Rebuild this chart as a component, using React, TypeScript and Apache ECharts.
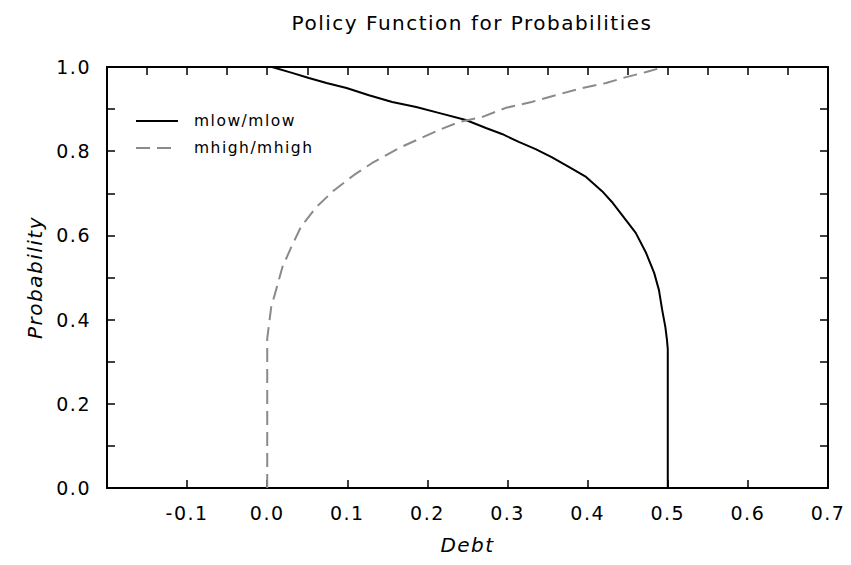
import React, { useEffect, useRef } from "react";
import * as echarts from "echarts";

const TITLE = "Policy Function for Probabilities";
const X_NAME = "Debt";
const Y_NAME = "Probability";
const SERIES_NAMES = ["mlow/mlow", "mhigh/mhigh"];

// mlow/mlow (solid black)
const mlowX = [0.006, 0.031, 0.052, 0.074, 0.099, 0.127, 0.156, 0.186, 0.214, 0.248, 0.273, 0.293, 0.314, 0.335, 0.355, 0.377, 0.398, 0.418, 0.43, 0.443, 0.46, 0.473, 0.483, 0.489, 0.493, 0.497, 0.499, 0.5, 0.5];
const mlowY = [1.0, 0.986, 0.974, 0.962, 0.95, 0.933, 0.917, 0.905, 0.891, 0.874, 0.855, 0.841, 0.822, 0.805, 0.786, 0.762, 0.739, 0.705, 0.68, 0.648, 0.606, 0.558, 0.511, 0.47, 0.423, 0.382, 0.352, 0.33, 0.0];

// mhigh/mhigh (dashed grey)
const mhighX = [0.0, 0.0, 0.005, 0.011, 0.019, 0.03, 0.042, 0.061, 0.084, 0.108, 0.131, 0.165, 0.214, 0.239, 0.268, 0.298, 0.33, 0.36, 0.389, 0.423, 0.448, 0.473, 0.495];
const mhighY = [0.0, 0.355, 0.43, 0.47, 0.525, 0.572, 0.62, 0.667, 0.708, 0.743, 0.772, 0.808, 0.85, 0.869, 0.881, 0.903, 0.917, 0.933, 0.948, 0.962, 0.976, 0.988, 1.0];

const X_MIN = -0.2;
const X_MAX = 0.7;
const X_STEP = 0.1;
const X_TOP_STEP = 0.05;
const Y_MIN = 0;
const Y_MAX = 1;
const Y_STEP = 0.2;
const Y_RIGHT_STEP = 0.1;

const FONT = "DejaVu Sans";

const fmt = (v: number) => {
  if (Math.abs(v) < 1e-9) return "0.0";
  return v.toFixed(1);
};

export default function App() {
  const ref = useRef<HTMLDivElement>(null);
  useEffect(() => {
    if (!ref.current) return;
    const chart = echarts.init(ref.current, undefined, { renderer: "svg" });
    const pairs = (xs: number[], ys: number[]) => xs.map((x, i) => [x, ys[i]]);
    const tickCommon = { show: true, inside: true, length: 8, lineStyle: { color: "#000", width: 1.5 } };
    const lineCommon = { show: true, onZero: false, lineStyle: { color: "#000", width: 2 } };
    chart.setOption({
      animation: false,
      backgroundColor: "#fff",
      title: {
        text: TITLE,
        left: 467,
        top: 8,
        textAlign: "center",
        textStyle: { fontFamily: FONT, fontSize: 20, fontWeight: "normal", color: "#000" },
      },
      legend: {
        orient: "vertical",
        left: 135,
        top: 113,
        padding: 0,
        itemWidth: 42,
        itemHeight: 14,
        itemGap: 11,
        data: SERIES_NAMES,
        itemStyle: { opacity: 0 },
        textStyle: { fontFamily: FONT, fontSize: 15.5, color: "#000", padding: [0, 0, 0, 11] },
      },
      grid: { left: 107, right: 23, top: 67, bottom: 77, containLabel: false },
      xAxis: [
        {
          type: "value",
          position: "bottom",
          min: X_MIN,
          max: X_MAX,
          interval: X_STEP,
          name: X_NAME,
          nameLocation: "middle",
          nameGap: 47,
          nameTextStyle: { fontFamily: FONT, fontSize: 20, fontStyle: "italic", color: "#000" },
          axisLine: lineCommon,
          axisTick: tickCommon,
          splitLine: { show: false },
          axisLabel: {
            margin: 15,
            fontFamily: FONT,
            fontSize: 19,
            color: "#000",
            formatter: (v: number) => (Math.abs(v - X_MIN) < 1e-9 ? "" : fmt(v)),
          },
        },
        {
          type: "value",
          position: "top",
          min: X_MIN,
          max: X_MAX,
          interval: X_TOP_STEP,
          axisLine: lineCommon,
          axisTick: tickCommon,
          axisLabel: { show: false },
          splitLine: { show: false },
        },
      ],
      yAxis: [
        {
          type: "value",
          position: "left",
          min: Y_MIN,
          max: Y_MAX,
          interval: Y_STEP,
          name: Y_NAME,
          nameLocation: "middle",
          nameGap: 62,
          nameTextStyle: { fontFamily: FONT, fontSize: 20, fontStyle: "italic", color: "#000" },
          axisLine: lineCommon,
          axisTick: tickCommon,
          minorTick: { show: true, splitNumber: 2, length: 8, lineStyle: { color: "#000", width: 1.5 } },
          splitLine: { show: false },
          axisLabel: { margin: 16, fontFamily: FONT, fontSize: 19, color: "#000", formatter: fmt },
        },
        {
          type: "value",
          position: "right",
          min: Y_MIN,
          max: Y_MAX,
          interval: Y_RIGHT_STEP,
          axisLine: lineCommon,
          axisTick: tickCommon,
          axisLabel: { show: false },
          splitLine: { show: false },
        },
      ],
      series: [
        {
          name: SERIES_NAMES[0],
          type: "line",
          xAxisIndex: 0,
          yAxisIndex: 0,
          symbol: "none",
          data: pairs(mlowX, mlowY),
          lineStyle: { color: "#000", width: 2 },
          itemStyle: { color: "#000" },
        },
        {
          name: SERIES_NAMES[1],
          type: "line",
          xAxisIndex: 0,
          yAxisIndex: 0,
          symbol: "none",
          data: pairs(mhighX, mhighY),
          lineStyle: { color: "#8a8a8a", width: 2, type: [14, 7] },
          itemStyle: { color: "#8a8a8a" },
        },
      ],
    });
    return () => chart.dispose();
  }, []);
  return (
    <>
      <style>{"#policy-chart text { letter-spacing: 1.5px; }"}</style>
      <div
        id="policy-chart"
        ref={ref}
        style={{ position: "absolute", left: 0, top: 0, width: 851, height: 565 }}
      />
    </>
  );
}
